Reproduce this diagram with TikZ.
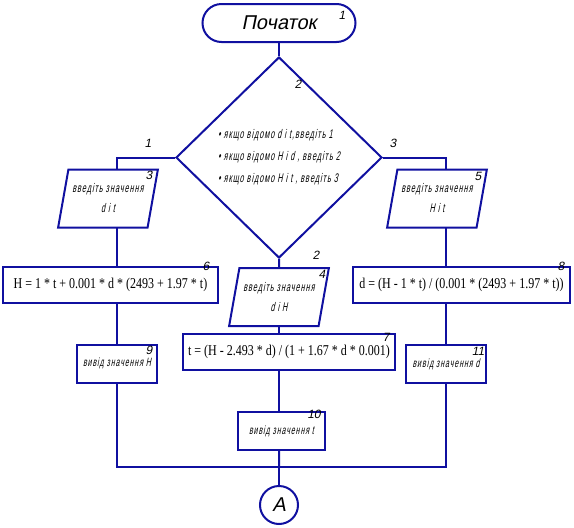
\documentclass[tikz,border=0pt]{standalone}
\usepackage{fontspec}
\usepackage{tikz}
\usetikzlibrary{shapes.geometric, positioning}
\newfontfamily\gostfont{Liberation Sans}[FakeSlant=0.2]
\newfontfamily\gostnarrow{Liberation Sans}[FakeSlant=0.2, FakeStretch=0.58, LetterSpace=8]
\newfontfamily\formfont{Liberation Serif}[FakeStretch=0.8]
\definecolor{FlowBlue}{RGB}{16, 16, 160}

\begin{document}
\begin{tikzpicture}[
    x=1pt, y=-1pt,
    line/.style={draw=FlowBlue, line width=2pt},
    term/.style={rectangle, rounded corners=19pt, line, minimum width=153pt,
                 minimum height=38pt, font=\gostfont\fontsize{20}{20}\selectfont},
    dec/.style={diamond, line, minimum width=206pt, minimum height=201pt, inner sep=1pt,
                align=left, font=\gostnarrow\fontsize{12.5}{22}\selectfont},
    io/.style={trapezium, trapezium left angle=73, trapezium right angle=107,
               trapezium stretches=true, line, minimum width=100pt, minimum height=58pt,
               inner sep=1pt, align=center, font=\gostnarrow\fontsize{12.5}{20}\selectfont},
    calc/.style={rectangle, line, minimum height=36pt, inner sep=1pt,
                 font=\formfont\fontsize{15}{16}\selectfont},
    outbox/.style={rectangle, line, minimum width=80pt, minimum height=38pt,
                   inner sep=1pt, font=\gostnarrow\fontsize{12}{12}\selectfont},
    conn/.style={circle, line, minimum size=38pt, inner sep=0pt,
                 font=\gostfont\fontsize{20}{20}\selectfont},
    num/.style={inner sep=0pt, font=\gostfont\fontsize{12}{12}\selectfont}
]
\useasboundingbox (0,0) rectangle (574,528);

% Start
\node[term] (start) at (279,23) {Початок};

% Choice
\node[dec] (choice) at (279,157.5) {%
  • якщо відомо d і t,введіть 1\\
  • якщо відомо H і d , введіть 2\\
  • якщо відомо H і t , введіть 3};

% Input
\node[io] (in3) at (108,198.5) {введіть значення\\d і t};
\node[io] (in4) at (279,297) {введіть значення\\d і H};
\node[io] (in5) at (437,198.5) {введіть значення\\H і t};

% Calculation
\node[calc, minimum width=215pt] (calc6) at (110.5,285) {H = 1 * t + 0.001 * d * (2493 + 1.97 * t)};
\node[calc, minimum width=212pt] (calc7) at (289,351.5) {t = (H - 2.493 * d) / (1 + 1.67 * d * 0.001)};
\node[calc, minimum width=217pt] (calc8) at (461.5,285) {d = (H - 1 * t) / (0.001 * (2493 + 1.97 * t))};

% Output
\node[outbox] (out9) at (117,363.5) {вивід значення H};
\node[outbox, minimum width=87pt] (out10) at (281.5,431) {вивід значення t};
\node[outbox] (out11) at (446,364) {вивід значення d};

% Connector
\node[conn] (endA) at (279,505) {A};
\coordinate (join) at (279,467);

% Numbers
\node[num] (n1) at (342,15) {1};
\node[num] (n2) at (298,84) {2};
\node[num] (n3) at (149,175) {3};
\node[num] (n4) at (322,274) {4};
\node[num] (n5) at (478,176) {5};
\node[num] (n6) at (206,266) {6};
\node[num] (n7) at (386,337) {7};
\node[num] (n8) at (561,266) {8};
\node[num] (n9) at (149,350) {9};
\node[num] (n10) at (314,414) {10};
\node[num] (n11) at (478,351) {11};
\node[num] (b1) at (148,143) {1};
\node[num] (b2) at (316,255) {2};
\node[num] (b3) at (393,143) {3};

% Lines
\draw[line] (start) -- (choice.north);
\draw[line] (choice.west) -| (117,169);
\draw[line] (choice.east) -| (446,169);
\draw[line] (choice.south) -- (in4.north);

\draw[line] (117,228) -- (117,267);
\draw[line] (117,303) -- (out9.north);
\draw[line] (out9.south) |- (join);

\draw[line] (446,228) -- (446,267);
\draw[line] (446,303) -- (out11.north);
\draw[line] (out11.south) |- (join);

\draw[line] (in4.south) -- (in4.south |- calc7.north);
\draw[line] (in4.south |- calc7.south) -- (in4.south |- out10.north);
\draw[line] (in4.south |- out10.south) -- (join);
\draw[line] (join) -- (endA);

\end{tikzpicture}
\end{document}
